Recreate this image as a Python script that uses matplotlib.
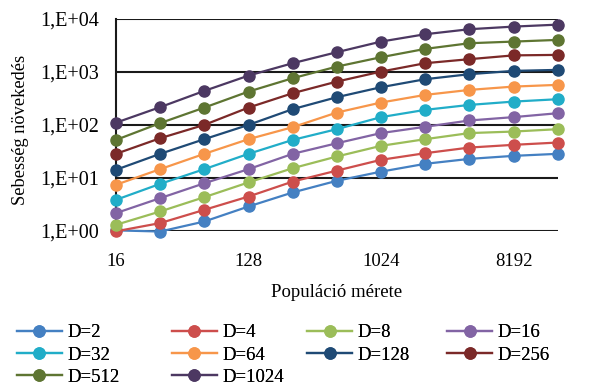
import numpy as np
import matplotlib
matplotlib.use("Agg")
import matplotlib.pyplot as plt

plt.rcParams['font.family'] = ['Liberation Serif', 'DejaVu Serif']

# population sizes (x) and speed-up per dimension D
pop = [16, 32, 64, 128, 256, 512, 1024, 2048, 4096, 8192, 16384]

d2 = [1.02, 0.97, 1.50, 2.88, 5.3, 8.8, 13.1, 18.4, 22.8, 26.0, 28.4]
d4 = [0.98, 1.40, 2.49, 4.44, 8.5, 13.7, 21.9, 29.2, 37.3, 42.0, 46.4]
d8 = [1.30, 2.32, 4.32, 8.2, 15.2, 25.3, 40.2, 53.7, 70.0, 74.8, 82.9]
d16 = [2.16, 4.14, 7.9, 14.6, 28.4, 45.0, 70.0, 92.0, 121.0, 140.0, 166.0]
d32 = [3.85, 7.7, 14.6, 28.4, 52.0, 83.0, 140.0, 192.0, 238.0, 275.0, 305.0]
d64 = [7.4, 14.6, 28.4, 53.7, 90.4, 171.0, 264.0, 368.0, 457.0, 528.0, 569.0]
d128 = [14.2, 28.4, 53.7, 100.0, 198.0, 333.0, 514.0, 728.0, 905.0, 1045.0, 1091.0]
d256 = [28.4, 56.0, 100.0, 212.0, 396.0, 656.0, 1013.0, 1459.0, 1738.0, 2050.0, 2094.0]
d512 = [52.0, 108.0, 212.0, 425.0, 760.0, 1259.0, 1893.0, 2717.0, 3476.0, 3733.0, 4016.0]
d1024 = [110.0, 216.0, 438.0, 851.0, 1459.0, 2353.0, 3733.0, 5140.0, 6390.0, 7160.0, 7800.0]

labels = ['D=2', 'D=4', 'D=8', 'D=16', 'D=32', 'D=64', 'D=128', 'D=256', 'D=512', 'D=1024']
series = [d2, d4, d8, d16, d32, d64, d128, d256, d512, d1024]
colors = ['#4480C2', '#CD4E4C', '#9BBD59', '#8264A4', '#21ADC8', '#F7964A',
          '#1F4A75', '#7B2928', '#5E7532', '#4C3862']

yticks = [1, 10, 100, 1000, 10000]
ytick_labels = ['1,E+00', '1,E+01', '1,E+02', '1,E+03', '1,E+04']
xticks = [16, 128, 1024, 8192]

fig = plt.figure(figsize=(6.01, 3.86), dpi=100)
ax = fig.add_axes([0.193, 0.402, 0.735, 0.549])

handles = []
for lab, s, c in zip(labels, series, colors):
    h, = ax.plot(pop, s, color=c, lw=1.6, marker='o', ms=8, label=lab, clip_on=False, zorder=3)
    handles.append(h)

ax.set_xscale('log', base=2)
ax.set_yscale('log')
ax.set_xlim(16, 16384)
ax.set_ylim(1, 10000)
ax.set_xticks(xticks)
ax.set_xticklabels([str(t) for t in xticks])
ax.set_yticks(yticks)
ax.set_yticklabels(ytick_labels)
ax.minorticks_off()
ax.tick_params(length=0)
ax.tick_params(axis='x', pad=16, labelsize=13.5)
ax.tick_params(axis='y', pad=12, labelsize=14.5)

for yv in yticks:
    ax.axhline(yv, color='#1a1a1a', lw=1.5, zorder=1)
for sp in ['top', 'right', 'bottom']:
    ax.spines[sp].set_visible(False)
ax.spines['left'].set_color('#1a1a1a')
ax.spines['left'].set_linewidth(1.5)

ax.set_xlabel('Populáció mérete', fontsize=13.5, labelpad=10)
ax.set_ylabel('Sebesség növekedés', fontsize=13.2)
ax.yaxis.set_label_coords(-0.197, 0.476)

# legend laid out row by row in four columns
col_x = [0.028, 0.286, 0.511, 0.744]
for ci in range(4):
    idx = list(range(ci, len(labels), 4))
    leg = fig.legend([handles[i] for i in idx], [labels[i] for i in idx],
                     loc='upper left', bbox_to_anchor=(col_x[ci], 0.160),
                     frameon=False, fontsize=13.5, handlelength=2.4, handletextpad=0.3,
                     labelspacing=0.27, borderaxespad=0, borderpad=0)
    fig.add_artist(leg)

fig.savefig('out.png', dpi=100)
